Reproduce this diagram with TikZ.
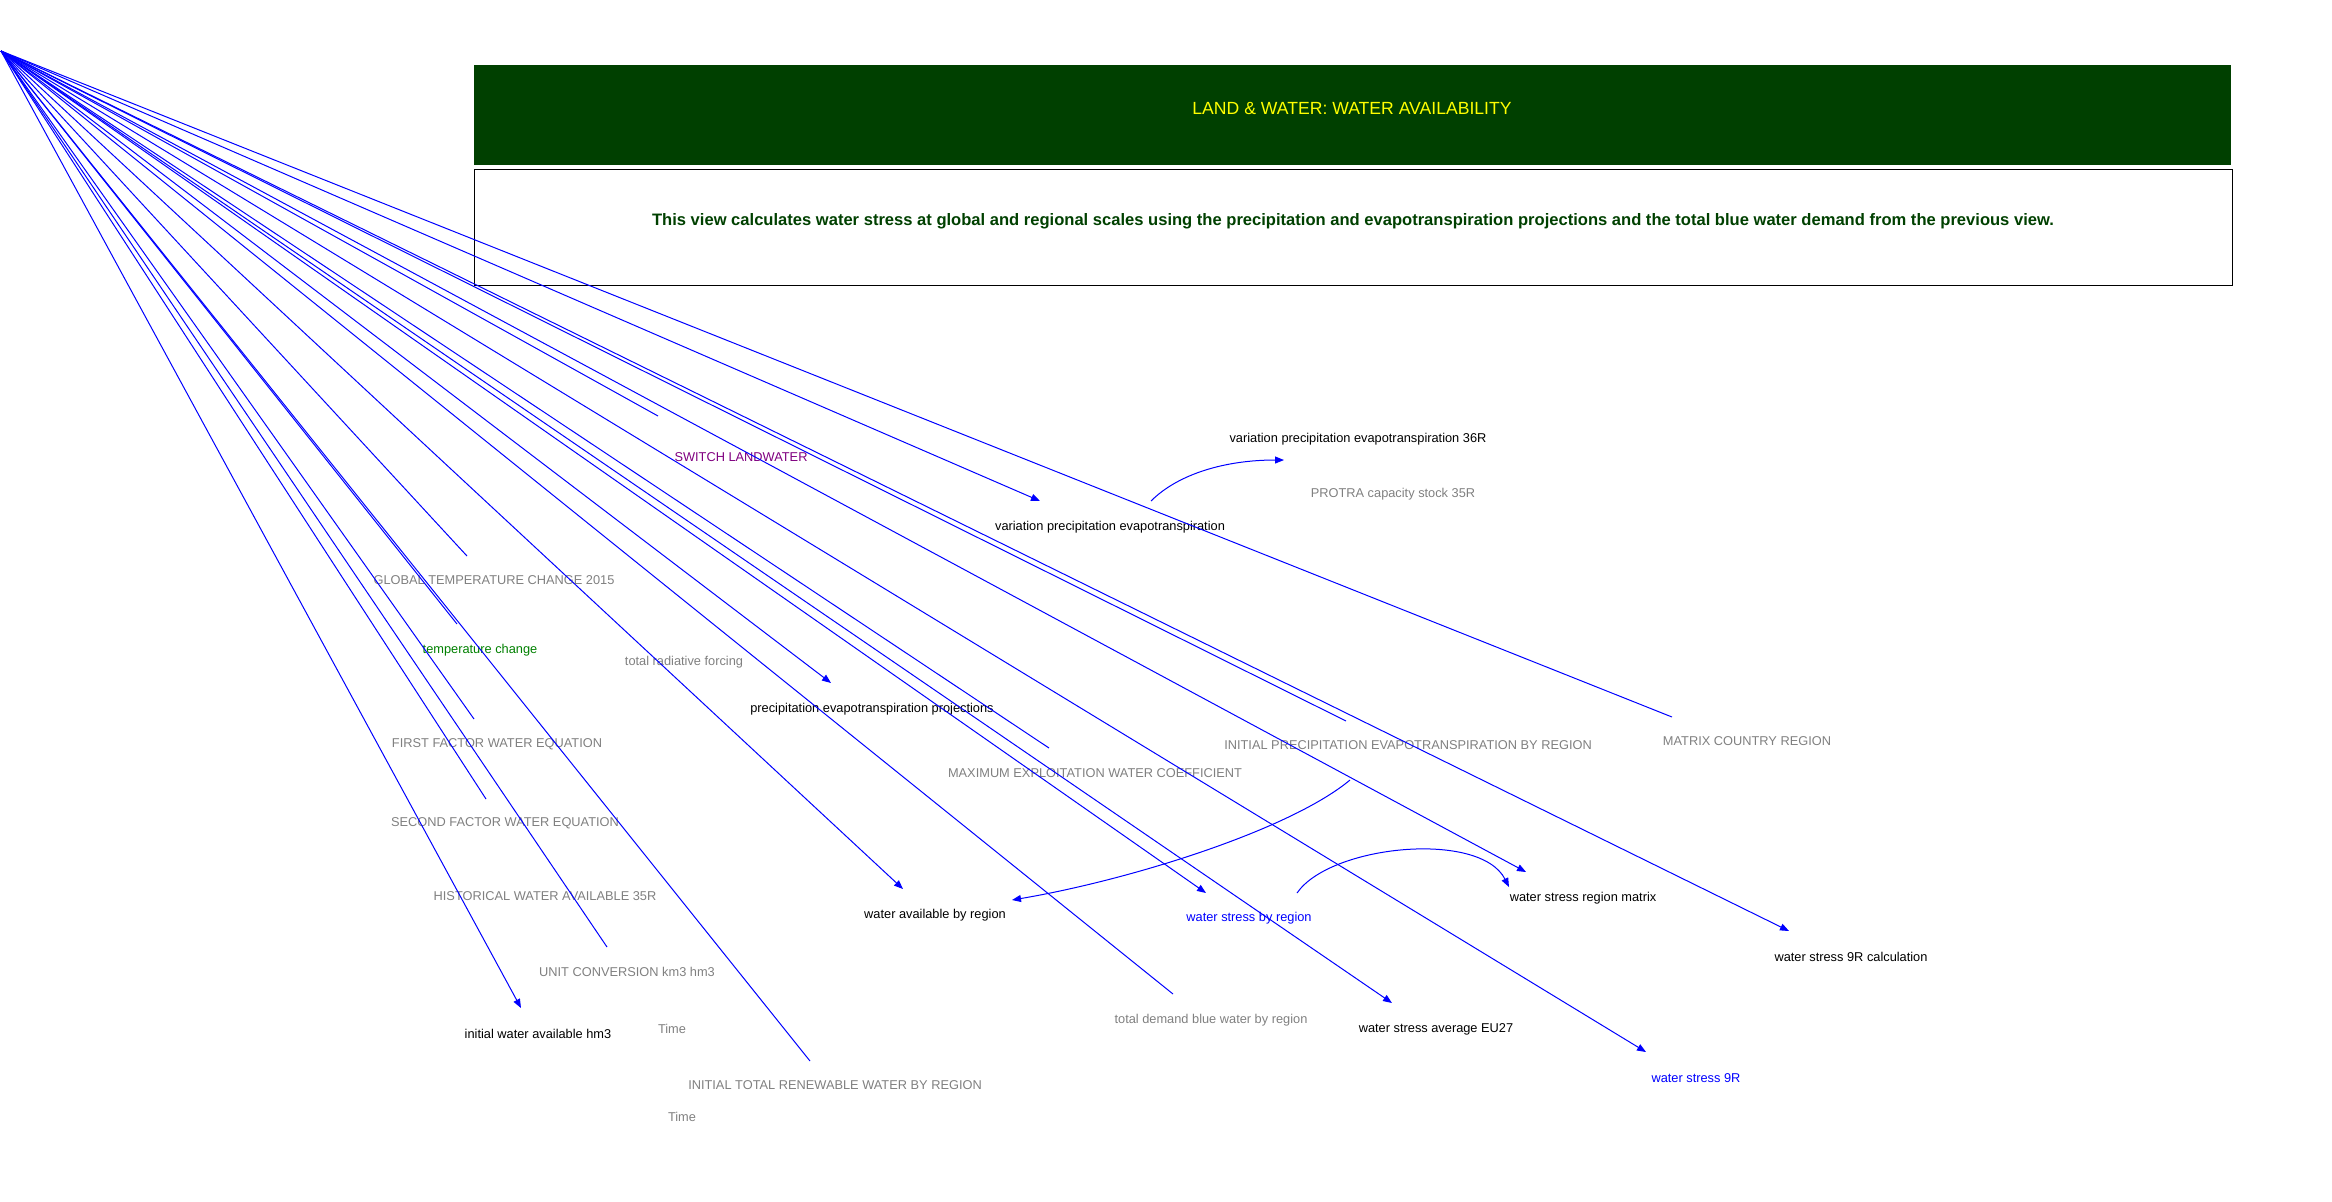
\documentclass[tikz,border=0pt]{standalone}
\usepackage{fontspec}
\setmainfont{Liberation Sans}
\usetikzlibrary{arrows.meta}
\definecolor{wblue}{RGB}{0,0,255}
\definecolor{wgray}{RGB}{128,128,128}
\definecolor{wpurple}{RGB}{128,0,128}
\definecolor{wgreen}{RGB}{0,128,0}
\definecolor{dkgreen}{RGB}{0,64,0}
\definecolor{wyellow}{RGB}{255,255,0}
\tikzset{
  lbl/.style={inner sep=0pt, anchor=center, font=\fontsize{6.4pt}{7pt}\selectfont},
  graylbl/.style={lbl, text=wgray},
  blacklbl/.style={lbl, text=black},
  bluelbl/.style={lbl, text=wblue},
  link/.style={draw=wblue, line width=0.5pt},
  alink/.style={link, -{Triangle[length=4.5pt,width=3.5pt]}},
}
\begin{document}
\begin{tikzpicture}[x=0.5pt,y=-0.5pt]
\useasboundingbox (0,0) rectangle (2332,1201);
% header
\node[fill=dkgreen, minimum width=878.5pt, minimum height=50pt, inner sep=0pt, anchor=north west] (title) at (474,65) {};
\node[text=wyellow, font=\fontsize{8.8pt}{10pt}\selectfont, inner sep=0pt] (titletext) at (1352,108) {LAND \& WATER: WATER AVAILABILITY};
\node[draw=black, line width=0.7pt, minimum width=879pt, minimum height=58pt, inner sep=0pt, anchor=north west] (descbox) at (474,169) {};
\node[text=dkgreen, font=\bfseries\fontsize{8.28pt}{10pt}\selectfont, inner sep=0pt] (desctext) at (1353,221) {This view calculates water stress at global and regional scales using the precipitation and evapotranspiration projections and the total blue water demand from the previous view.};

% labels
\node[lbl, text=wpurple] (switch) at (741,457) {SWITCH LANDWATER};
\node[blacklbl] (var36) at (1358,439) {variation precipitation evapotranspiration 36R};
\node[graylbl] (protra) at (1393,494) {PROTRA capacity stock 35R};
\node[blacklbl] (var) at (1110,527) {variation precipitation evapotranspiration};
\node[graylbl] (globtemp) at (494,580) {GLOBAL TEMPERATURE CHANGE 2015};
\node[lbl, text=wgreen] (tempch) at (480,650) {temperature change};
\node[graylbl] (radforc) at (684,662) {total radiative forcing};
\node[blacklbl] (pep) at (872,709) {precipitation evapotranspiration projections};
\node[graylbl] (first) at (497,744) {FIRST FACTOR WATER EQUATION};
\node[graylbl] (maxexp) at (1095,773) {MAXIMUM EXPLOITATION WATER COEFFICIENT};
\node[graylbl] (initpe) at (1408,745) {INITIAL PRECIPITATION EVAPOTRANSPIRATION BY REGION};
\node[graylbl] (matrix) at (1747,741) {MATRIX COUNTRY REGION};
\node[graylbl] (second) at (505,823) {SECOND FACTOR WATER EQUATION};
\node[graylbl] (hist) at (545,896) {HISTORICAL WATER AVAILABLE 35R};
\node[blacklbl] (wavail) at (935,915) {water available by region};
\node[graylbl] (unitconv) at (627,972) {UNIT CONVERSION km3 hm3};
\node[blacklbl] (initwat) at (538,1034) {initial water available hm3};
\node[graylbl] (timeA) at (672,1029) {Time};
\node[graylbl] (inittot) at (835,1085) {INITIAL TOTAL RENEWABLE WATER BY REGION};
\node[graylbl] (timeB) at (682,1117) {Time};
\node[bluelbl] (wsreg) at (1249,918) {water stress by region};
\node[blacklbl] (wsmat) at (1583,898) {water stress region matrix};
\node[blacklbl] (ws9rc) at (1851,957) {water stress 9R calculation};
\node[graylbl] (demand) at (1211,1020) {total demand blue water by region};
\node[blacklbl] (wseu) at (1436,1029) {water stress average EU27};
\node[bluelbl] (ws9r) at (1696,1078) {water stress 9R};

% connector end points
\coordinate (o) at (1,51);
\coordinate (ea) at (467,556);
\coordinate (eb) at (457,624);
\coordinate (ec) at (474,719);
\coordinate (ed) at (486,799);
\coordinate (ee) at (607,947);
\coordinate (ef) at (521,1008);
\coordinate (eg) at (810,1061);
\coordinate (eh) at (903,889);
\coordinate (ei) at (831,683);
\coordinate (ej) at (658,416);
\coordinate (ek) at (1040,501);
\coordinate (el) at (1049,748);
\coordinate (em) at (1173,994);
\coordinate (en) at (1346,721);
\coordinate (eo) at (1526,872);
\coordinate (ep) at (1672,717);
\coordinate (eq) at (1789,931);
\coordinate (er) at (1206,893);
\coordinate (es) at (1392,1003);
\coordinate (et) at (1646,1052);

% free lines
\foreach \e in {ea,eb,ec,ed,ee,eg,ej,el,em,en,ep}
  \draw[link] (o) -- (\e);
% arrowed lines
\foreach \e in {ef,eh,ei,ek,eo,eq,er,es,et}
  \draw[alink] (o) -- (\e);

% curved links
\coordinate (c1s) at (1151,501);
\coordinate (c1e) at (1284,460);
\draw[alink] (c1s) .. controls (1178,474) and (1225,460) .. (c1e);
\coordinate (c2s) at (1350,780);
\coordinate (c2e) at (1012,900);
\draw[alink] (c2s) .. controls (1290,830) and (1130,880) .. (c2e);
\coordinate (c3s) at (1297,893);
\coordinate (c3e) at (1509,887);
\draw[alink] (c3s) .. controls (1330,845) and (1480,830) .. (c3e);
\end{tikzpicture}
\end{document}
